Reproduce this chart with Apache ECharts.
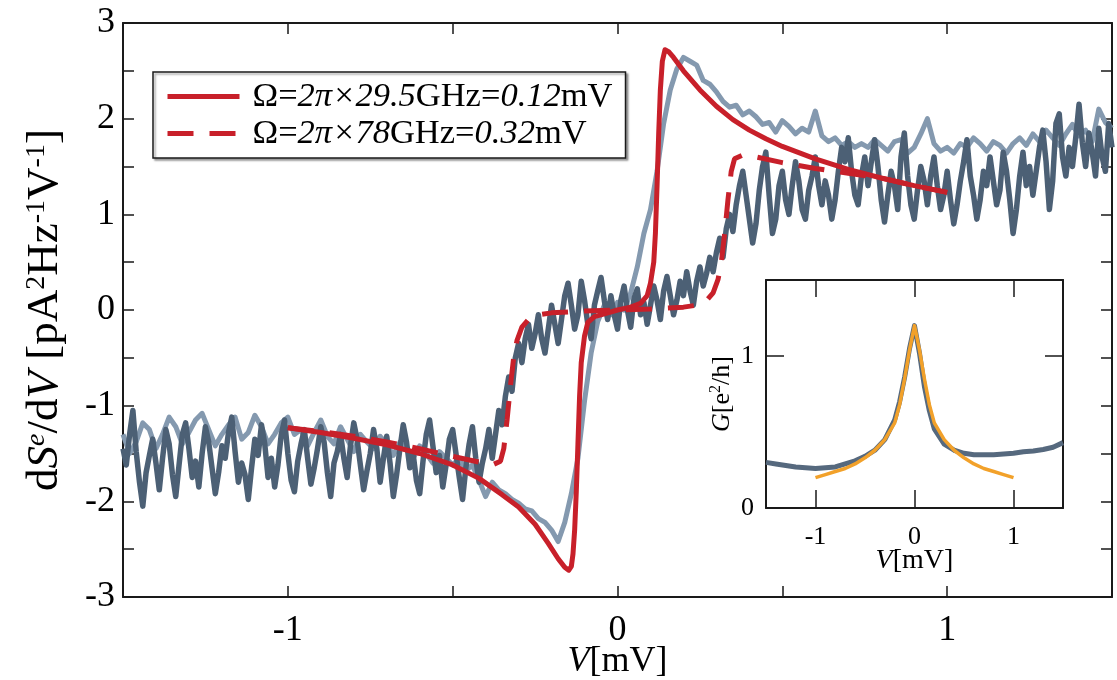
<!DOCTYPE html>
<html>
<head>
<meta charset="utf-8">
<script src="https://cdn.jsdelivr.net/npm/echarts@6/dist/echarts.min.js"></script>
<style>
    html, body { margin: 0; padding: 0; background: #fff; }
    #chart { width: 1117px; height: 680px; }
</style>
</head>
<body>
<div id="chart"></div>
<script>
    // bias grid of the 29.5 GHz trace (mV)
    var vGrid = [
        -1.50,-1.48,-1.46,-1.44,-1.42,-1.40,-1.38,-1.36,-1.34,-1.32,
        -1.30,-1.28,-1.26,-1.24,-1.22,-1.20,-1.18,-1.16,-1.14,-1.12,
        -1.10,-1.08,-1.06,-1.04,-1.02,-1.00,-0.98,-0.96,-0.94,-0.92,
        -0.90,-0.88,-0.86,-0.84,-0.82,-0.80,-0.78,-0.76,-0.74,-0.72,
        -0.70,-0.68,-0.66,-0.64,-0.62,-0.60,-0.58,-0.56,-0.54,-0.52,
        -0.50,-0.48,-0.46,-0.44,-0.42,-0.40,-0.38,-0.36,-0.34,-0.32,
        -0.30,-0.28,-0.26,-0.24,-0.22,-0.20,-0.18,-0.16,-0.14,-0.12,
        -0.10,-0.08,-0.06,-0.04,-0.02,0.00,0.02,0.04,0.06,0.08,
        0.10,0.12,0.14,0.16,0.18,0.20,0.22,0.24,0.26,0.28,
        0.30,0.32,0.34,0.36,0.38,0.40,0.42,0.44,0.46,0.48,
        0.50,0.52,0.54,0.56,0.58,0.60,0.62,0.64,0.66,0.68,
        0.70,0.72,0.74,0.76,0.78,0.80,0.82,0.84,0.86,0.88,
        0.90,0.92,0.94,0.96,0.98,1.00,1.02,1.04,1.06,1.08,
        1.10,1.12,1.14,1.16,1.18,1.20,1.22,1.24,1.26,1.28,
        1.30,1.32,1.34,1.36,1.38,1.40,1.42,1.44,1.46,1.48,
        1.50
    ]

    // 29.5 GHz measurement (light)
    var lightTrace = [
        -1.30,-1.50,-1.38,-1.18,-1.25,-1.45,-1.30,-1.12,-1.22,-1.40,
        -1.28,-1.15,-1.08,-1.25,-1.42,-1.30,-1.20,-1.12,-1.35,-1.28,
        -1.10,-1.22,-1.40,-1.30,-1.18,-1.12,-1.30,-1.25,-1.42,-1.28,
        -1.15,-1.32,-1.40,-1.22,-1.35,-1.48,-1.30,-1.38,-1.45,-1.32,
        -1.40,-1.52,-1.38,-1.45,-1.55,-1.42,-1.50,-1.60,-1.48,-1.55,
        -1.62,-1.55,-1.68,-1.62,-1.78,-1.95,-1.80,-1.88,-1.92,-1.98,
        -2.02,-2.08,-2.10,-2.18,-2.22,-2.30,-2.42,-2.22,-1.92,-1.55,
        -0.95,-0.45,-0.12,0.05,-0.05,0.08,0.00,0.18,0.45,0.80,
        1.05,1.45,1.95,2.30,2.52,2.64,2.60,2.56,2.40,2.36,
        2.28,2.18,2.12,2.14,2.04,2.08,2.02,1.94,1.96,1.86,
        1.98,1.92,1.84,1.90,1.86,2.08,1.82,1.76,1.80,1.72,
        1.76,1.70,1.74,1.70,1.78,1.72,1.66,1.76,1.78,1.64,
        1.70,1.84,2.00,1.74,1.66,1.70,1.64,1.74,1.70,1.80,
        1.74,1.66,1.76,1.72,1.64,1.74,1.80,1.72,1.84,1.76,
        1.88,1.80,1.72,1.84,1.94,1.82,1.88,1.76,2.10,1.96,
        1.90
    ]

    // bias grid of the 78 GHz trace (mV)
    var vFine = [
        -1.50,-1.49,-1.48,-1.47,-1.46,-1.45,-1.44,-1.43,-1.42,-1.41,
        -1.40,-1.39,-1.38,-1.37,-1.36,-1.35,-1.34,-1.33,-1.32,-1.31,
        -1.30,-1.29,-1.28,-1.27,-1.26,-1.25,-1.24,-1.23,-1.22,-1.21,
        -1.20,-1.19,-1.18,-1.17,-1.16,-1.15,-1.14,-1.13,-1.12,-1.11,
        -1.10,-1.09,-1.08,-1.07,-1.06,-1.05,-1.04,-1.03,-1.02,-1.01,
        -1.00,-0.99,-0.98,-0.97,-0.96,-0.95,-0.94,-0.93,-0.92,-0.91,
        -0.90,-0.89,-0.88,-0.87,-0.86,-0.85,-0.84,-0.83,-0.82,-0.81,
        -0.80,-0.79,-0.78,-0.77,-0.76,-0.75,-0.74,-0.73,-0.72,-0.71,
        -0.70,-0.69,-0.68,-0.67,-0.66,-0.65,-0.64,-0.63,-0.62,-0.61,
        -0.60,-0.59,-0.58,-0.57,-0.56,-0.55,-0.54,-0.53,-0.52,-0.51,
        -0.50,-0.49,-0.48,-0.47,-0.46,-0.45,-0.44,-0.43,-0.42,-0.41,
        -0.40,-0.39,-0.38,-0.37,-0.36,-0.35,-0.34,-0.33,-0.32,-0.31,
        -0.30,-0.29,-0.28,-0.27,-0.26,-0.25,-0.24,-0.23,-0.22,-0.21,
        -0.20,-0.19,-0.18,-0.17,-0.16,-0.15,-0.14,-0.13,-0.12,-0.11,
        -0.10,-0.09,-0.08,-0.07,-0.06,-0.05,-0.04,-0.03,-0.02,-0.01,
        0.00,0.01,0.02,0.03,0.04,0.05,0.06,0.07,0.08,0.09,
        0.10,0.11,0.12,0.13,0.14,0.15,0.16,0.17,0.18,0.19,
        0.20,0.21,0.22,0.23,0.24,0.25,0.26,0.27,0.28,0.29,
        0.30,0.31,0.32,0.33,0.34,0.35,0.36,0.37,0.38,0.39,
        0.40,0.41,0.42,0.43,0.44,0.45,0.46,0.47,0.48,0.49,
        0.50,0.51,0.52,0.53,0.54,0.55,0.56,0.57,0.58,0.59,
        0.60,0.61,0.62,0.63,0.64,0.65,0.66,0.67,0.68,0.69,
        0.70,0.71,0.72,0.73,0.74,0.75,0.76,0.77,0.78,0.79,
        0.80,0.81,0.82,0.83,0.84,0.85,0.86,0.87,0.88,0.89,
        0.90,0.91,0.92,0.93,0.94,0.95,0.96,0.97,0.98,0.99,
        1.00,1.01,1.02,1.03,1.04,1.05,1.06,1.07,1.08,1.09,
        1.10,1.11,1.12,1.13,1.14,1.15,1.16,1.17,1.18,1.19,
        1.20,1.21,1.22,1.23,1.24,1.25,1.26,1.27,1.28,1.29,
        1.30,1.31,1.32,1.33,1.34,1.35,1.36,1.37,1.38,1.39,
        1.40,1.41,1.42,1.43,1.44,1.45,1.46,1.47,1.48,1.49,
        1.50
    ]

    // 78 GHz measurement (dark)
    var darkTrace = [
        -1.45,-1.62,-1.30,-1.05,-1.48,-1.80,-2.05,-1.70,-1.52,-1.35,
        -1.60,-1.88,-1.55,-1.25,-1.40,-1.72,-1.95,-1.62,-1.30,-1.18,
        -1.45,-1.75,-1.58,-1.85,-1.50,-1.22,-1.38,-1.65,-1.92,-1.70,
        -1.42,-1.55,-1.28,-1.12,-1.48,-1.80,-1.60,-1.72,-1.98,-1.65,
        -1.35,-1.52,-1.20,-1.40,-1.75,-1.55,-1.85,-1.62,-1.30,-1.15,
        -1.50,-1.78,-1.90,-1.58,-1.40,-1.25,-1.55,-1.82,-1.65,-1.45,
        -1.22,-1.38,-1.70,-1.95,-1.60,-1.48,-1.30,-1.55,-1.75,-1.42,
        -1.18,-1.35,-1.62,-1.88,-1.68,-1.50,-1.25,-1.45,-1.80,-1.55,
        -1.32,-1.60,-1.95,-1.72,-1.45,-1.20,-1.38,-1.65,-1.50,-1.78,
        -1.92,-1.58,-1.30,-1.15,-1.42,-1.70,-1.52,-1.85,-1.62,-1.35,
        -1.25,-1.50,-1.75,-1.98,-1.65,-1.40,-1.22,-1.55,-1.80,-1.60,
        -1.45,-1.25,-1.55,-1.30,-1.05,-1.20,-0.90,-0.70,-0.85,-0.50,
        -0.35,-0.55,-0.30,-0.15,-0.40,-0.25,-0.05,-0.30,-0.45,-0.20,
        0.05,-0.15,-0.35,-0.10,0.15,0.28,0.05,-0.20,-0.05,0.30,
        0.10,-0.15,-0.30,0.05,0.20,0.34,0.10,-0.10,0.15,-0.05,
        -0.20,0.10,0.25,0.00,-0.18,0.12,0.22,-0.05,0.08,-0.15,
        0.05,0.25,0.10,-0.10,0.20,0.35,0.15,-0.05,0.10,0.30,
        0.15,0.40,0.20,0.05,0.30,0.45,0.25,0.38,0.55,0.40,
        0.60,0.75,0.55,0.85,1.00,0.82,1.10,1.30,1.45,1.20,
        0.95,0.70,0.90,1.25,1.50,1.65,1.20,0.80,0.95,1.30,
        1.45,1.15,1.00,1.30,1.55,1.35,1.05,0.95,1.25,1.40,
        1.60,1.30,1.10,1.35,1.20,0.95,1.15,1.45,1.70,1.55,
        1.80,1.45,1.20,1.10,1.40,1.60,1.30,1.55,1.78,1.50,
        1.15,0.92,1.20,1.45,1.30,1.05,1.60,1.85,1.40,1.10,
        0.95,1.25,1.50,1.35,1.10,1.40,1.60,1.30,1.05,1.20,
        1.45,1.15,0.90,1.10,1.35,1.55,1.78,1.40,1.20,0.95,
        1.15,1.45,1.30,1.60,1.35,1.10,1.25,1.65,1.45,1.15,
        0.80,1.05,1.40,1.65,1.30,1.50,1.20,1.45,1.70,1.88,
        1.55,1.05,1.35,1.95,2.05,1.60,1.40,1.70,1.50,1.80,
        2.15,1.75,1.50,1.85,1.65,1.40,1.90,1.60,1.45,1.95,
        1.70
    ]

    // theory, Omega = 0.12 mV (solid)
    var solidV = [-1.0,-0.9,-0.8,-0.7,-0.6,-0.5,-0.42,-0.35,-0.3,-0.25,-0.21,-0.18,-0.16,-0.148,-0.14,-0.135,-0.13,-0.125,-0.12,-0.115,-0.11,-0.1,-0.09,-0.07,-0.04,
                  0,0.04,0.07,0.09,0.1,0.11,0.115,0.12,0.125,0.13,0.136,0.144,0.155,0.17,0.2,0.25,0.3,0.35,0.4,0.45,0.5,0.6,0.7,0.8,0.9,1.0]
    var solidS = [-1.23,-1.28,-1.34,-1.41,-1.50,-1.62,-1.76,-1.93,-2.06,-2.24,-2.44,-2.60,-2.69,-2.72,-2.68,-2.55,-2.30,-1.90,-1.40,-0.90,-0.55,-0.27,-0.13,-0.07,-0.04,
                  0,0.03,0.07,0.15,0.28,0.50,0.80,1.30,1.85,2.30,2.60,2.72,2.70,2.64,2.50,2.30,2.13,1.99,1.88,1.79,1.71,1.58,1.47,1.38,1.30,1.23]

    // theory, Omega = 0.32 mV (dashed)
    var dashV = [-1.0,-0.9,-0.8,-0.7,-0.6,-0.5,-0.42,-0.38,-0.355,-0.345,-0.335,-0.325,-0.315,-0.305,-0.29,-0.27,-0.24,-0.2,-0.1,
                 0,0.1,0.2,0.24,0.27,0.29,0.305,0.315,0.325,0.335,0.345,0.355,0.38,0.42,0.5,0.6,0.7,0.8,0.9,1.0]
    var dashS = [-1.23,-1.27,-1.32,-1.38,-1.45,-1.53,-1.59,-1.62,-1.58,-1.45,-1.15,-0.80,-0.50,-0.32,-0.18,-0.10,-0.05,-0.03,-0.01,
                 0,0.01,0.03,0.05,0.10,0.18,0.32,0.50,0.80,1.15,1.45,1.58,1.62,1.60,1.54,1.48,1.43,1.38,1.30,1.23]

    // inset: conductance
    var insetV = [-1.5,-1.4,-1.3,-1.2,-1.1,-1.0,-0.9,-0.8,-0.7,-0.6,-0.5,-0.4,-0.3,-0.2,-0.15,-0.1,-0.05,0,
                  0.05,0.1,0.15,0.2,0.3,0.4,0.5,0.6,0.7,0.8,0.9,1.0,1.1,1.2,1.3,1.4,1.5]
    var insetG = [0.30,0.29,0.28,0.27,0.265,0.26,0.265,0.27,0.29,0.31,0.34,0.38,0.45,0.58,0.70,0.86,1.05,1.20,
                  1.02,0.80,0.64,0.52,0.42,0.38,0.36,0.35,0.35,0.35,0.355,0.36,0.37,0.375,0.385,0.40,0.43]
    var fitV = [-1,-0.9,-0.8,-0.7,-0.6,-0.5,-0.4,-0.3,-0.2,-0.15,-0.1,-0.05,0,0.05,0.1,0.15,0.2,0.3,0.4,0.5,0.6,0.7,0.8,0.9,1]
    var fitG = [0.20,0.22,0.24,0.26,0.29,0.33,0.38,0.45,0.56,0.68,0.85,1.04,1.20,1.04,0.85,0.68,0.56,0.45,0.38,0.33,0.29,0.26,0.24,0.22,0.20]

    var insetTicks = [-1, 0, 1]
    var insetYTicks = [0, 1]

    var nameSolid = 'Ω=2π×29.5GHz=0.12mV'
    var nameDash = 'Ω=2π×78GHz=0.32mV'

    var serif = 'Liberation Serif'
    var ink = '#1a1a1a'
    var red = '#c8202a'

    function pairs (xs, ys) {
        return xs.map(function (x, i) { return [x, ys[i]] })
    }

    function intLabel (v) {
        return Math.abs(v - Math.round(v)) < 1e-6 ? String(Math.round(v)) : ''
    }

    function richSet (size, sup, lh) {
        return {
            r:  { fontFamily: serif, fontSize: size, lineHeight: lh, color: '#000' },
            i:  { fontFamily: serif, fontSize: size, lineHeight: lh, color: '#000', fontStyle: 'italic' },
            s:  { fontFamily: serif, fontSize: sup, color: '#000', verticalAlign: 'top' },
            si: { fontFamily: serif, fontSize: sup, color: '#000', fontStyle: 'italic', verticalAlign: 'top' }
        }
    }

    var legendText = {}
    legendText[nameSolid] = '{r|Ω=}{i|2π×29.5}{r|GHz=}{i|0.12}{r|mV}'
    legendText[nameDash] = '{r|Ω=}{i|2π×78}{r|GHz=}{i|0.32}{r|mV}'

    function boxAxis (extra) {
        var base = {
            type: 'value',
            nameMoveOverlap: false,
            axisLine: { onZero: false, lineStyle: { color: ink, width: 2 } },
            axisTick: { inside: true, length: 11, lineStyle: { color: ink, width: 1.5 } },
            splitLine: { show: false }
        }
        return Object.assign(base, extra)
    }

    var myChart = echarts.init(document.getElementById('chart'), null, { renderer: 'canvas' })

    myChart.setOption({
        backgroundColor: '#fff',
        animation: false,
        grid: [
            { left: 123, right: 5, top: 23, bottom: 83, outerBoundsMode: 'none', containLabel: false },
            { left: 766, top: 280, width: 297, height: 228, outerBoundsMode: 'none', containLabel: false }
        ],
        legend: {
            data: [nameSolid, nameDash],
            orient: 'vertical',
            left: 153,
            top: 72,
            padding: [7, 13, 7, 12],
            itemGap: 2,
            itemWidth: 72,
            itemHeight: 28,
            backgroundColor: '#fff',
            borderColor: ink,
            borderWidth: 1.5,
            shadowColor: 'rgba(0,0,0,0.35)',
            shadowBlur: 2,
            shadowOffsetX: 2,
            shadowOffsetY: 2,
            lineStyle: { width: 5 },
            itemStyle: { opacity: 0 },
            formatter: function (name) { return legendText[name] },
            textStyle: {
                padding: [0, 0, 0, 8],
                rich: richSet(34.5, 20, 30)
            },
            selectedMode: false
        },
        xAxis: [
            boxAxis({
                gridIndex: 0, position: 'bottom', min: -1.5, max: 1.5, interval: 0.5,
                axisLabel: { formatter: intLabel, fontFamily: serif, fontSize: 36, color: '#000', margin: 16 },
                name: '{i|V}{r|[mV]}', nameLocation: 'middle', nameGap: 46,
                nameTextStyle: { rich: richSet(36, 22, 38) }
            }),
            boxAxis({
                gridIndex: 0, position: 'top', min: -1.5, max: 1.5, interval: 0.5,
                axisLabel: { show: false }
            }),
            boxAxis({
                gridIndex: 1, position: 'bottom', min: -1.5, max: 1.5,
                axisTick: { inside: true, length: 18, customValues: insetTicks, lineStyle: { color: ink, width: 1.5 } },
                axisLabel: { customValues: insetTicks, fontFamily: serif, fontSize: 26, color: '#000', margin: 16 },
                name: '{i|V}{r|[mV]}', nameLocation: 'middle', nameGap: 38,
                nameTextStyle: { rich: richSet(28, 17, 30) }
            }),
            boxAxis({
                gridIndex: 1, position: 'top', min: -1.5, max: 1.5,
                axisTick: { inside: true, length: 17, customValues: insetTicks, lineStyle: { color: ink, width: 1.5 } },
                axisLabel: { show: false }
            })
        ],
        yAxis: [
            boxAxis({
                gridIndex: 0, position: 'left', min: -3, max: 3, interval: 0.5,
                axisLabel: { formatter: intLabel, fontFamily: serif, fontSize: 36, color: '#000', margin: 8 },
                name: '{r|d}{i|S}{si|e}{r|/d}{i|V}{r| [pA}{s|2}{r|Hz}{s|-1}{r|V}{s|-1}{r|]}',
                nameLocation: 'middle', nameRotate: 90, nameGap: 56,
                nameTextStyle: { rich: richSet(45, 28, 44) }
            }),
            boxAxis({
                gridIndex: 0, position: 'right', min: -3, max: 3, interval: 0.5,
                axisLabel: { show: false }
            }),
            boxAxis({
                gridIndex: 1, position: 'left', min: 0, max: 1.5,
                axisTick: { inside: true, length: 18, customValues: insetYTicks, lineStyle: { color: ink, width: 1.5 } },
                axisLabel: { customValues: insetYTicks, fontFamily: serif, fontSize: 26, color: '#000', margin: 12 },
                name: '{i|G}{r|[e}{s|2}{r|/h]}', nameLocation: 'middle', nameRotate: 90, nameGap: 30,
                nameTextStyle: { rich: richSet(26, 16, 28) }
            }),
            boxAxis({
                gridIndex: 1, position: 'right', min: 0, max: 1.5,
                axisTick: { inside: true, length: 18, customValues: insetYTicks, lineStyle: { color: ink, width: 1.5 } },
                axisLabel: { show: false }
            })
        ],
        series: [
            {
                name: 'light', type: 'line', xAxisIndex: 0, yAxisIndex: 0,
                data: pairs(vGrid, lightTrace), symbol: 'none', silent: true,
                lineStyle: { color: '#8499af', width: 5, join: 'round' }
            },
            {
                name: 'dark', type: 'line', xAxisIndex: 0, yAxisIndex: 0,
                data: pairs(vFine, darkTrace), symbol: 'none', silent: true,
                lineStyle: { color: '#4c6075', width: 5.5, join: 'round' }
            },
            {
                name: nameSolid, type: 'line', xAxisIndex: 0, yAxisIndex: 0,
                data: pairs(solidV, solidS), symbol: 'none', silent: true,
                itemStyle: { color: red },
                lineStyle: { color: red, width: 5, join: 'round' }
            },
            {
                name: nameDash, type: 'line', xAxisIndex: 0, yAxisIndex: 0,
                data: pairs(dashV, dashS), symbol: 'none', silent: true,
                itemStyle: { color: red },
                lineStyle: { color: red, width: 5, type: [26, 16] }
            },
            {
                name: 'G data', type: 'line', xAxisIndex: 2, yAxisIndex: 2,
                data: pairs(insetV, insetG), symbol: 'none', silent: true,
                lineStyle: { color: '#56697e', width: 5, join: 'round' }
            },
            {
                name: 'G fit', type: 'line', xAxisIndex: 2, yAxisIndex: 2,
                data: pairs(fitV, fitG), symbol: 'none', silent: true,
                lineStyle: { color: '#f2a12a', width: 3.5, join: 'round' }
            }
        ]
    })
</script>
</body>
</html>
